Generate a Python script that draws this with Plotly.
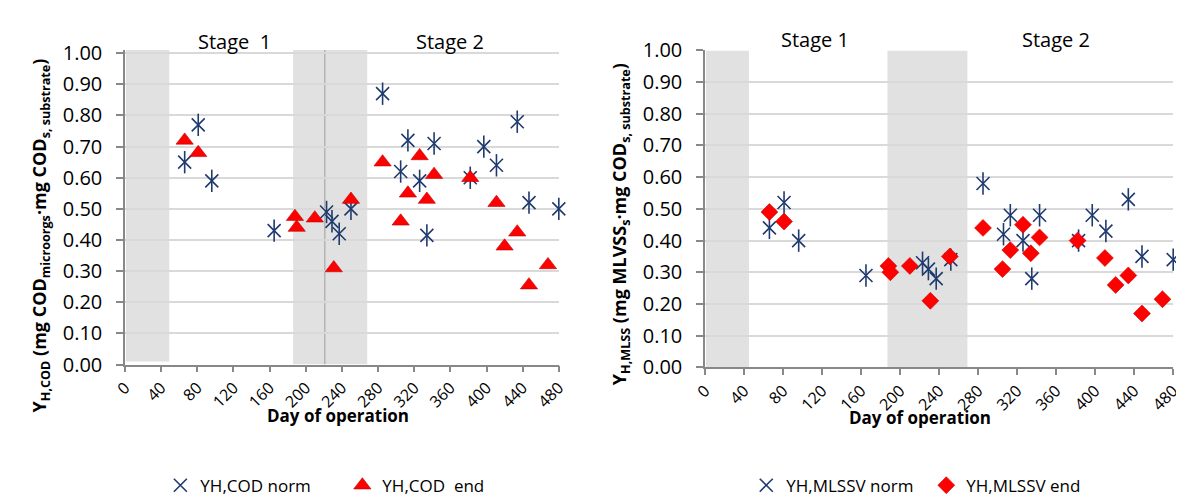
import plotly.graph_objects as go

W, H = 1184, 502

# ---------------- data ----------------
days_ticks = [0, 40, 80, 120, 160, 200, 240, 280, 320, 360, 400, 440, 480]

cod_norm_day = [66, 81, 96, 165, 223, 229, 237, 250, 285, 305, 313, 326, 334, 342, 382, 397, 411, 434, 447, 480]
cod_norm_val = [0.65, 0.77, 0.59, 0.43, 0.49, 0.46, 0.42, 0.50, 0.87, 0.62, 0.72, 0.59, 0.415, 0.71, 0.60, 0.70, 0.64, 0.78, 0.52, 0.50]
cod_end_day = [66, 81, 188, 190, 210, 231, 250, 285, 305, 313, 326, 334, 342, 382, 411, 420, 434, 447, 468]
cod_end_val = [0.72, 0.68, 0.475, 0.44, 0.47, 0.31, 0.53, 0.65, 0.46, 0.55, 0.67, 0.53, 0.61, 0.60, 0.52, 0.38, 0.425, 0.255, 0.32]

mlss_norm_day = [66, 81, 96, 165, 223, 229, 237, 252, 285, 306, 313, 326, 335, 343, 383, 397, 411, 434, 448, 480]
mlss_norm_val = [0.44, 0.52, 0.40, 0.29, 0.33, 0.31, 0.28, 0.34, 0.58, 0.42, 0.48, 0.40, 0.28, 0.48, 0.40, 0.48, 0.43, 0.53, 0.35, 0.34]
mlss_end_day = [66, 81, 188, 190, 210, 231, 251, 285, 305, 313, 326, 334, 343, 382, 410, 421, 434, 448, 469]
mlss_end_val = [0.49, 0.46, 0.32, 0.30, 0.32, 0.21, 0.35, 0.44, 0.31, 0.37, 0.45, 0.36, 0.41, 0.40, 0.345, 0.26, 0.29, 0.17, 0.215]

left_shades = [(1, 49, 0.01, 1.01), (186, 268, 0.0, 1.01)]
left_vline_day = 221
right_shades = [(1, 45, 0.0, 1.0), (187, 269, 0.0, 1.0)]

NAVY = "#1F3A6E"
RED = "#FF0000"
FONT = "Open Sans"


def px_x(p):
    return p / W


def px_y(p):
    return (H - p) / H


fig = go.Figure()


def star_traces(xs, ys, name, xa, ya, legend):
    fig.add_trace(go.Scatter(
        x=xs, y=ys, mode="markers", name=name, xaxis=xa, yaxis=ya, legend=legend,
        cliponaxis=False,
        marker=dict(symbol="x-thin-open", size=13, line=dict(color=NAVY, width=1.6), color=NAVY)))
    fig.add_trace(go.Scatter(
        x=xs, y=ys, mode="markers", name=name, xaxis=xa, yaxis=ya, legend=legend,
        showlegend=False, cliponaxis=False, hoverinfo="skip",
        marker=dict(symbol="line-ns-open", size=16, line=dict(color=NAVY, width=1.6), color=NAVY)))


star_traces(cod_norm_day, cod_norm_val, "YH,COD norm", "x", "y", "legend")
fig.add_trace(go.Scatter(
    x=cod_end_day, y=cod_end_val, mode="markers", name="YH,COD&nbsp; end", xaxis="x", yaxis="y",
    legend="legend", cliponaxis=False,
    marker=dict(symbol="triangle-up", size=15, color=RED, line=dict(color="#C00000", width=0.6))))

star_traces(mlss_norm_day, mlss_norm_val, "YH,MLSSV norm", "x2", "y2", "legend2")
fig.add_trace(go.Scatter(
    x=mlss_end_day, y=mlss_end_val, mode="markers", name="YH,MLSSV end", xaxis="x2", yaxis="y2",
    legend="legend2", cliponaxis=False,
    marker=dict(symbol="diamond", size=13, color=RED, line=dict(color="#D00000", width=0.6))))

shapes = []
for (a, b, y0, y1) in left_shades:
    shapes.append(dict(type="rect", xref="x", yref="y", x0=a, x1=b, y0=y0, y1=y1,
                       fillcolor="#E1E1E1", line=dict(width=0), layer="below"))
shapes.append(dict(type="line", xref="x", yref="y", x0=left_vline_day, x1=left_vline_day, y0=0, y1=1.01,
                   line=dict(color="#B4B4B4", width=1.5), layer="below"))
for (a, b, y0, y1) in right_shades:
    shapes.append(dict(type="rect", xref="x2", yref="y2", x0=a, x1=b, y0=y0, y1=y1,
                       fillcolor="#E1E1E1", line=dict(width=0), layer="below"))

xaxis_common = dict(
    range=[0, 480], tickmode="array", tickvals=days_ticks, ticktext=[str(d) for d in days_ticks],
    tickangle=-45, ticks="outside", ticklen=6, tickcolor="#888888", tickwidth=1.5,
    showline=True, linecolor="#888888", linewidth=1.5, showgrid=False, zeroline=False,
    tickfont=dict(family=FONT, size=16, color="black"), fixedrange=True)
yaxis_common = dict(
    tickmode="linear", tick0=0, dtick=0.1, tickformat=".2f",
    ticks="outside", ticklen=7, tickcolor="#888888", tickwidth=1.5,
    showline=True, linecolor="#888888", linewidth=1.5,
    showgrid=True, gridcolor="#D9D9D9", gridwidth=1.5, zeroline=False,
    ticklabelstandoff=10,
    tickfont=dict(family=FONT, size=20, color="black"), fixedrange=True)

fig.update_layout(
    width=W, height=H, margin=dict(l=0, r=0, t=0, b=0),
    paper_bgcolor="white", plot_bgcolor="white",
    font=dict(family=FONT, color="black"),
    xaxis=dict(xaxis_common, domain=[px_x(106), px_x(548)], anchor="y"),
    yaxis=dict(yaxis_common, range=[0, 1.01], domain=[px_y(362), px_y(29.7)], anchor="x"),
    xaxis2=dict(xaxis_common, domain=[px_x(697), px_x(1174)], anchor="y2"),
    yaxis2=dict(yaxis_common, range=[0, 1.0], domain=[px_y(365), px_y(30)], anchor="x2"),
    shapes=shapes,
    legend=dict(orientation="h", x=px_x(142), y=px_y(490), xanchor="left", yanchor="middle",
                font=dict(family=FONT, size=17, color="black"), entrywidth=137, entrywidthmode="pixels",
                bgcolor="rgba(0,0,0,0)"),
    legend2=dict(orientation="h", x=px_x(739), y=px_y(490), xanchor="left", yanchor="middle",
                 font=dict(family=FONT, size=17, color="black"), entrywidth=135, entrywidthmode="pixels",
                 bgcolor="rgba(0,0,0,0)"),
)

annotations = [
    dict(text="Stage&nbsp; 1", x=px_x(218), y=px_y(21), font=dict(size=20)),
    dict(text="Stage 2", x=px_x(437), y=px_y(21), font=dict(size=20)),
    dict(text="Stage 1", x=px_x(809), y=px_y(18), font=dict(size=20)),
    dict(text="Stage 2", x=px_x(1055), y=px_y(18), font=dict(size=20)),
    dict(text="<b>Day of operation</b>", x=px_x(323), y=px_y(416), font=dict(size=17)),
    dict(text="<b>Day of operation</b>", x=px_x(916), y=px_y(418), font=dict(size=17)),
    dict(text="<b>Y<sub>H,COD</sub> (mg COD<sub>microorgs</sub>·mg COD<sub>s, substrate</sub>)</b>",
         x=px_x(20), y=px_y(226), textangle=-90, font=dict(size=18)),
    dict(text="<b>Y<sub>H,MLSS</sub> (mg MLVSS<sub>s</sub>·mg COD<sub>s, substrate</sub>)</b>",
         x=px_x(611), y=px_y(214), textangle=-90, font=dict(size=18)),
]
for a in annotations:
    a.update(xref="paper", yref="paper", showarrow=False, xanchor="center", yanchor="middle")
    a["font"] = dict(family=FONT, color="black", **a["font"])
fig.update_layout(annotations=annotations)

fig.write_html("out.html")
